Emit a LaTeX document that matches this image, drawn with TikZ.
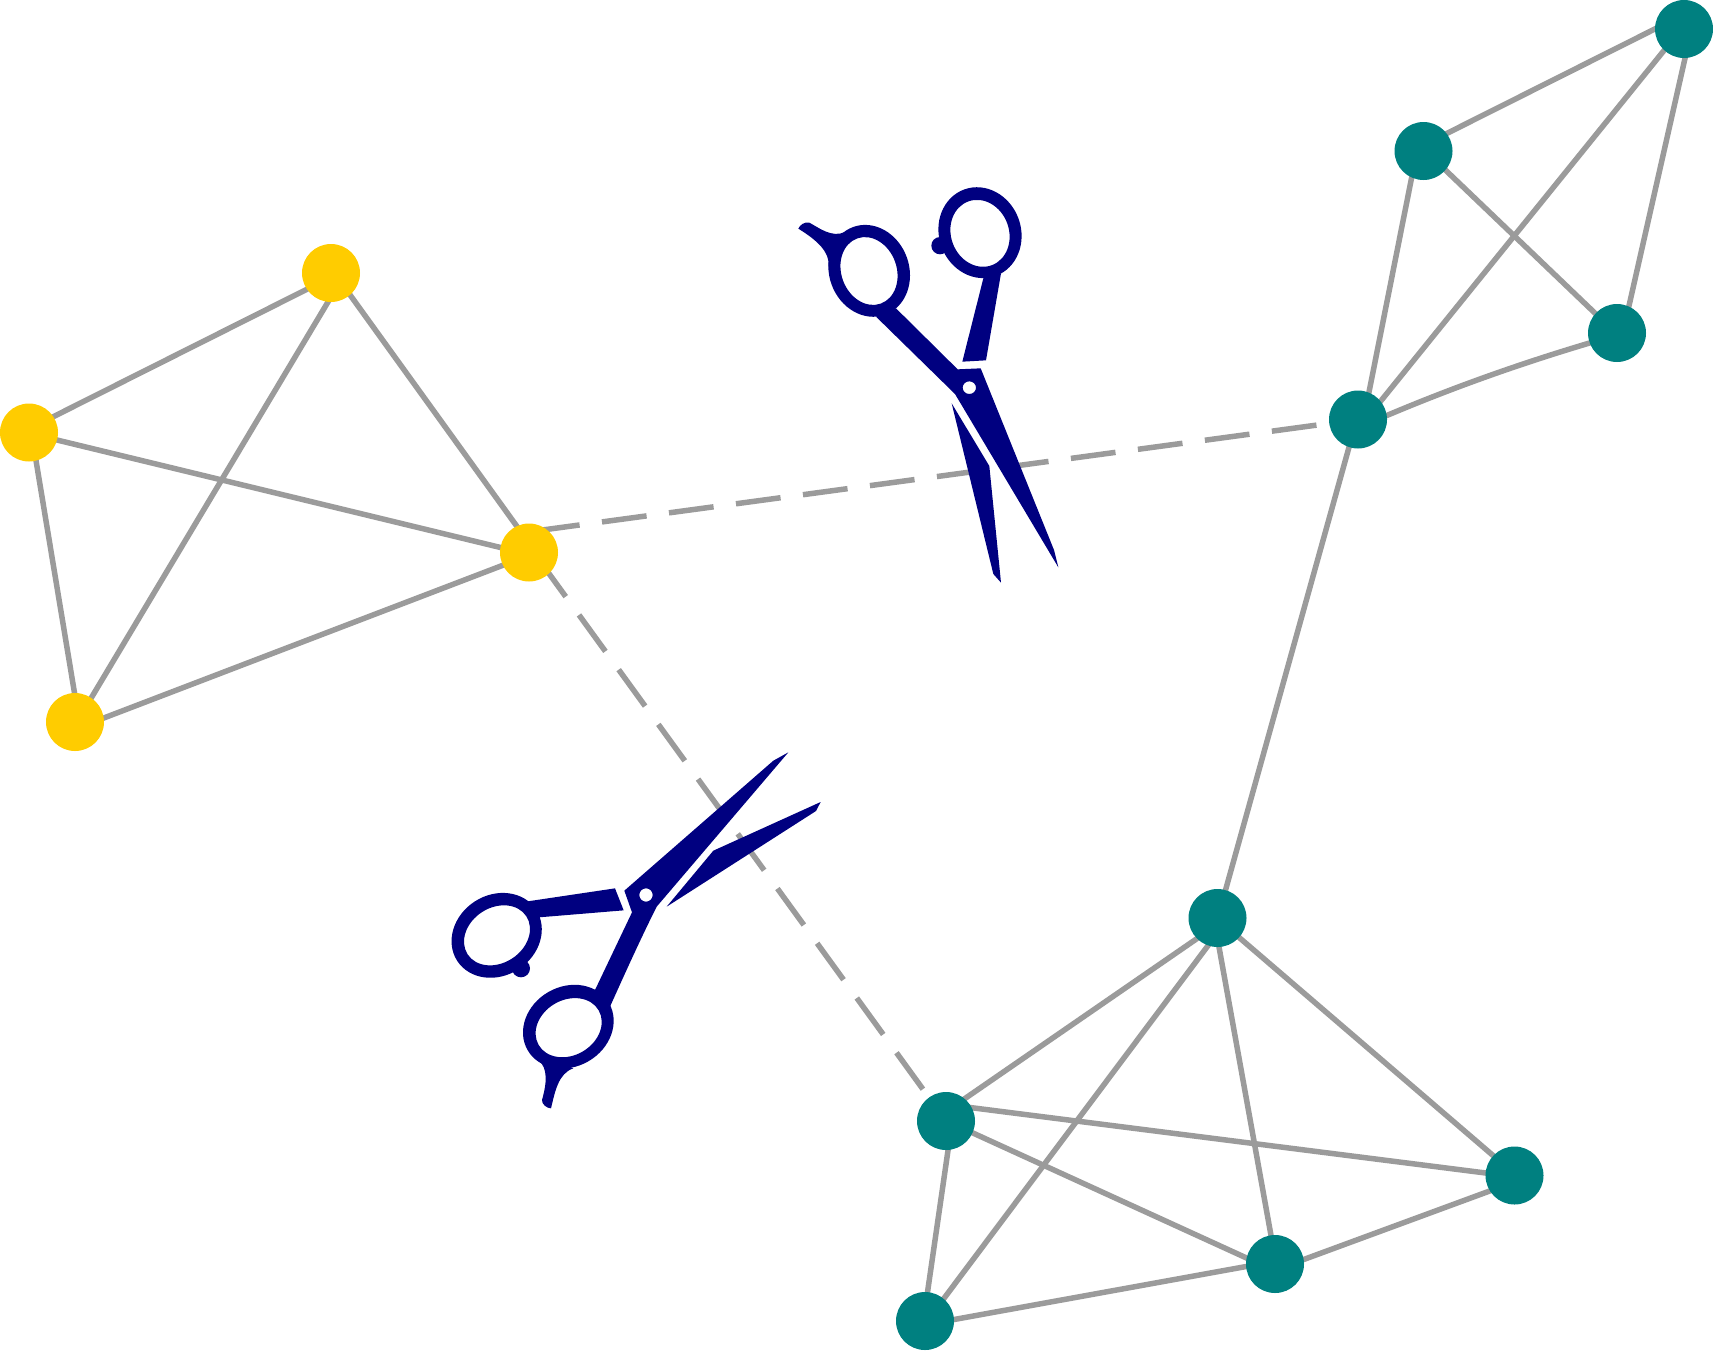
\documentclass[tikz,border=0pt]{standalone}
\usetikzlibrary{backgrounds}
\definecolor{edgegray}{HTML}{9B9B9B}
\definecolor{tealn}{HTML}{008080}
\definecolor{yelln}{HTML}{FFCC00}
\definecolor{navys}{HTML}{000080}
\tikzset{
  vertex/.style={circle,minimum size=58pt,inner sep=0pt,draw=none},
  yv/.style={vertex,fill=yelln},
  tv/.style={vertex,fill=tealn},
  edge/.style={draw=edgegray,line width=5.5pt,shorten <=-3pt,shorten >=-3pt},
  cutedge/.style={draw=edgegray,line width=5.5pt,dash pattern=on 45pt off 22.6pt},
  sciss/.style={fill=navys,draw=none},
}
\begin{document}
\begin{tikzpicture}[x=1pt,y=-1pt]
\useasboundingbox (0,0) rectangle (1713,1350);
\coordinate (dR) at (535,531);
\coordinate (dB) at (539.3,560.2);
% vertices
\node[yv] (A) at (331,273) {};
\node[yv] (B) at (29,432.5) {};
\node[yv] (C) at (75,722) {};
\node[yv] (D) at (529,552.5) {};
\node[tv] (T1) at (1684,29) {};
\node[tv] (T2) at (1423.5,151) {};
\node[tv] (T3) at (1617,333) {};
\node[tv] (T4) at (1358,419.5) {};
\node[tv] (T5) at (1217.5,918) {};
\node[tv] (T6) at (946,1121) {};
\node[tv] (T7) at (1514.5,1175.5) {};
\node[tv] (T8) at (1275,1264) {};
\node[tv] (T9) at (925,1321) {};
\begin{pgfonlayer}{background}
% yellow cluster
\draw[edge] (A.214.3)--(B.33.9);
\draw[edge] (A.264.5)--(C.56.3);
\draw[edge] (A.311.4)--(D.115.8);
\draw[edge] (B.-15.9)--(D.170.3);
\draw[edge] (B.-76.5)--(C.91);
\draw[edge] (C.8.9)--(D.206.8);
% upper teal cluster
\draw[edge] (T1.180.6)--(T2.37);
\draw[edge] (T1.227.9)--(T4.39);
\draw[edge] (T1.272)--(T3.66.7);
\draw[edge] (T2.-41.2)--(T3.138.2);
\draw[edge] (T2.246.6)--(T4.68.5);
\draw[edge] (T4.252.5)--(T5.74);
\draw[edge] (T4.8.9) .. controls (1454,387) and (1522,363) .. (T3.200.4);
% lower teal cluster
\draw[edge] (T5.225.4)--(T6.50.1);
\draw[edge] (T5.251.2)--(T9.50.8);
\draw[edge] (T5.273.6)--(T8.98);
\draw[edge] (T5.-42.5)--(T7.137.9);
\draw[edge] (T6.27.2)--(T7.175.5);
\draw[edge] (T6.-24.8)--(T8.168.3);
\draw[edge] (T6.-86.6)--(T9.85.9);
\draw[edge] (T9.3.4)--(T8.185.6);
\draw[edge] (T8.9.5)--(T7.212.7);
% dashed edges
\draw[cutedge] (dR)--(T4);
\draw[cutedge] (dB)--(T6);
% upper scissors
\begin{scope}[shift={(780,170)},scale=0.33333]
\fill[sciss,even odd rule] (267.5,302.5) circle[x radius=120,y radius=140,rotate=20]
      (267,303) circle[x radius=83,y radius=104,rotate=20];
\fill[sciss,even odd rule] (600,188) circle[x radius=123,y radius=138,rotate=20]
      (600,190) circle[x radius=87,y radius=102,rotate=20];
\fill[sciss] (480,227) circle[radius=26];
% finger tang
\fill[sciss] (55,176) .. controls (60,165) and (72,155) .. (88,158)
   .. controls (115,172) and (155,205) .. (195,186)
   -- (175,215) -- (146,290)
   .. controls (150,245) and (110,210) .. (55,176) -- cycle;
% blade with long handle
\fill[sciss,even odd rule] (288,440) -- (525,672) -- (835,1192) -- (822,1140) -- (602,595) -- (533,598) -- (348,415) -- (322,428) -- cycle
   (568,653) circle[x radius=20,y radius=19];
% short handle
\fill[sciss] (610,325) -- (547,575) -- (618,571) -- (663,310) -- (640,312) -- cycle;
% second blade
\fill[sciss] (515,700) -- (628,888) -- (663,1238) -- (640,1212) -- cycle;
\end{scope}
% lower scissors
\begin{scope}[shift={(440,740)},scale=0.33333]
\fill[sciss,even odd rule] (170,586) circle[x radius=141,y radius=121,rotate=33]
      (171,586) circle[x radius=105,y radius=83,rotate=33];
\fill[sciss,even odd rule] (385,860) circle[x radius=141,y radius=120,rotate=30]
      (386,863) circle[x radius=104,y radius=83,rotate=30];
\fill[sciss] (243,685) circle[radius=27];
% short handle
\fill[sciss] (263,484) -- (525,445) -- (551,511) -- (297,532) -- (280,510) -- cycle;
% long blade
\fill[sciss,even odd rule] (553,452) -- (1000,62) -- (1045,37) -- (650,500)
   .. controls (600,600) and (555,700) .. (510,800) -- (480,775) -- (465,750) -- (576,517) -- cycle
   (618,465) circle[radius=20];
% second blade
\fill[sciss] (680,500) -- (820,332) -- (1142,186) -- (1128,213) -- cycle;
% finger tang
\fill[sciss] (295,960) .. controls (325,985) and (320,1030) .. (306,1080)
   .. controls (305,1092) and (320,1105) .. (333,1105)
   .. controls (345,1055) and (355,1000) .. (400,985) -- (350,965) -- cycle;
\end{scope}
\end{pgfonlayer}
\end{tikzpicture}
\end{document}
